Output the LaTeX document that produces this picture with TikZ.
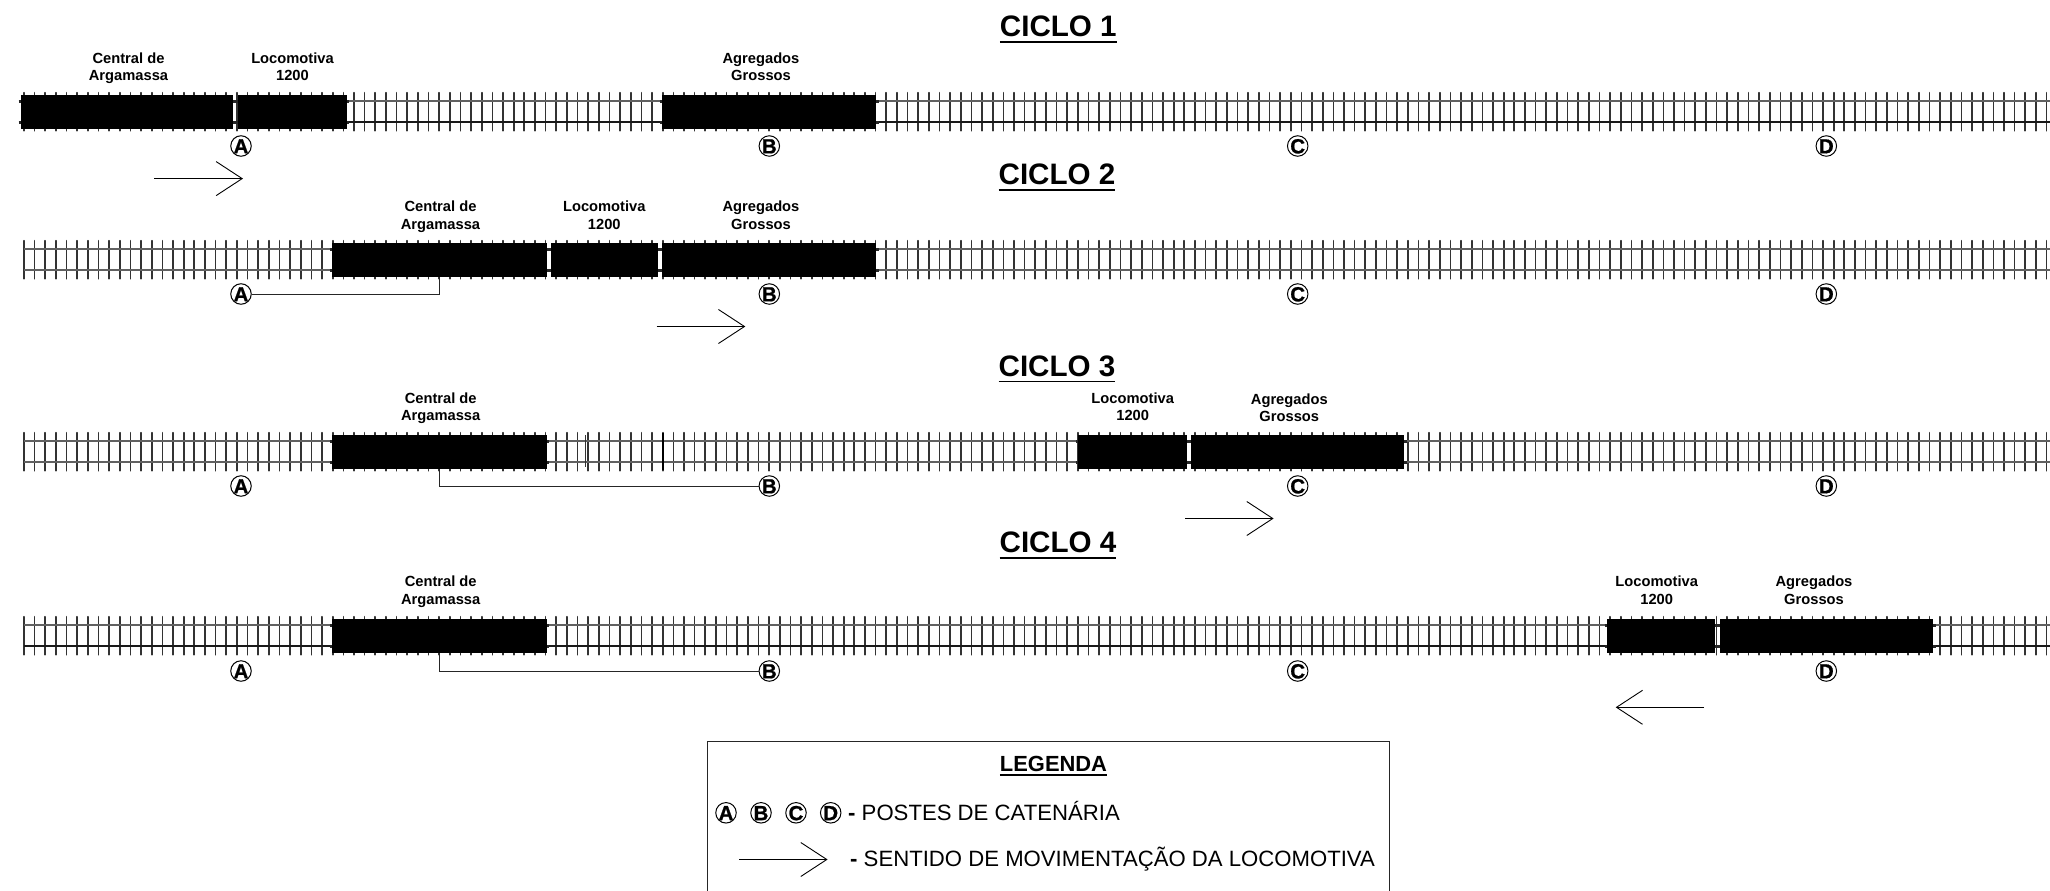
\documentclass[tikz,border=0pt]{standalone}
\usepackage{fontspec}
\setmainfont{Liberation Sans}
\newfontface\postfont{Liberation Sans Bold}[FakeBold=1]
\usetikzlibrary{arrows.meta}
\newsavebox{\ulsave}
\newcommand{\myul}[3]{\sbox{\ulsave}{#3}\leavevmode\rlap{\rule[-#1pt]{\wd\ulsave}{#2pt}}\usebox{\ulsave}}
\newcommand{\pz}[1]{\fontsize{#1pt}{#1pt}\selectfont}
\newcommand{\cl}[1]{\makebox[0pt]{\raisebox{-.36em}[0pt][0pt]{#1}}}
\tikzset{
  x=1pt,y=-1pt,
  tie/.style={line width=1.7pt,draw=black!80,line cap=round},
  railgrey/.style={line width=1.5pt,draw=black!62},
  railblack/.style={line width=1.2pt,draw=black!90},
  blk/.style={fill=black,draw=none,inner sep=0pt,minimum height=33.5pt,anchor=north west,rectangle},
  nub/.style={line width=3pt,draw=black!85},
  lab/.style={font=\bfseries\fontsize{14.7pt}{17.5pt}\selectfont,align=center,inner sep=0pt,anchor=base},
  ttl/.style={font=\bfseries\pz{29.6},inner sep=0pt,anchor=base},
  post/.style={circle,draw=black,line width=1pt,minimum size=20.5pt,inner sep=0pt,font=\postfont\pz{20.5}},
  conn/.style={draw=black!85,line width=1pt},
  mov/.style={draw=black,line width=.9pt,-{Straight Barb[length=26pt,width=34pt,line width=.9pt]}},
  lgd/.style={font=\pz{22.15},inner sep=0pt,anchor=base west},
}
\newcommand{\track}[4]{% top, start x, top rail style, bottom rail style
  \foreach \k in {0,...,190}{
    \draw[tie] ({24+10.645*\k},#1-2.3) -- ({24+10.645*\k},#1+35.7);
  }
  \draw[#3] (#2,#1+6) -- (2050,#1+6);
  \draw[#4] (#2,#1+27) -- (2050,#1+27);
}
\newcommand{\blkn}[4]{% name, x1, x2, top
  \draw[nub] (#2-2.5,#4+6) -- (#3+2.5,#4+6);
  \draw[nub] (#2-2.5,#4+27) -- (#3+2.5,#4+27);
  \node[blk,minimum width={(#3-#2)*1pt}] (#1) at (#2,#4) {};
}
\begin{document}
\begin{tikzpicture}
\useasboundingbox[fill=white] (0,0) rectangle (2050,891);

% titles
\node[ttl] (t1) at (1058.3,36.8) {\myul{6}{1.3}{CICLO 1}};
\node[ttl] (t2) at (1057,184.5) {\myul{6}{1.3}{CICLO 2}};
\node[ttl] (t3) at (1057,376) {\myul{6}{1.3}{CICLO 3}};
\node[ttl] (t4) at (1058,552.5) {\myul{6}{1.3}{CICLO 4}};

% tracks
\track{95}{19}{railgrey}{railblack}
\track{243}{24}{railgrey}{railgrey}
\track{435}{24}{railgrey}{railgrey}
\track{619}{24}{railgrey}{railblack}
\draw[line width=1pt,draw=black!80] (585,435) -- (585,467);
\draw[line width=1.6pt,draw=black] (662.7,433) -- (662.7,470);

% ciclo 1
\blkn{cen1}{21}{233}{95}
\blkn{loc1}{237.5}{346.5}{95}
\blkn{agr1}{662}{876}{95}
\node[lab] (lc1) at (128.5,81) {Central de\\Argamassa};
\node[lab] (ll1) at (292.5,81) {Locomotiva\\1200};
\node[lab] (la1) at (761,81) {Agregados\\Grossos};
% ciclo 2
\blkn{cen2}{332}{546.5}{243}
\blkn{loc2}{550.5}{657.5}{243}
\blkn{agr2}{662}{876}{243}
\node[lab] (lc2) at (440.5,229) {Central de\\Argamassa};
\node[lab] (ll2) at (604.3,229) {Locomotiva\\1200};
\node[lab] (la2) at (761,229) {Agregados\\Grossos};
% ciclo 3
\blkn{cen3}{332}{546.5}{435}
\blkn{loc3}{1078}{1186.5}{435}
\blkn{agr3}{1191}{1404}{435}
\node[lab] (lc3) at (440.7,420.5) {Central de\\Argamassa};
\node[lab] (ll3) at (1132.7,420.5) {Locomotiva\\1200};
\node[lab] (la3) at (1289.3,421.5) {Agregados\\Grossos};
% ciclo 4
\blkn{cen4}{332}{546.5}{619}
\blkn{loc4}{1607}{1715}{619}
\blkn{agr4}{1719.5}{1933}{619}
\node[lab] (lc4) at (440.7,604) {Central de\\Argamassa};
\node[lab] (ll4) at (1656.7,604) {Locomotiva\\1200};
\node[lab] (la4) at (1814,604) {Agregados\\Grossos};

% posts
\foreach \r/\y in {1/146,2/294,3/486,4/671}{
  \node[post] (a\r) at (241,\y) {\cl{A}};
  \node[post] (b\r) at (769.3,\y) {\cl{B}};
  \node[post] (c\r) at (1297.7,\y) {\cl{C}};
  \node[post] (d\r) at (1826.3,\y) {\cl{D}};
}

% connectors to posts
\draw[conn] (a2.east) -| (cen2.south);
\draw[conn] (b3.west) -| (cen3.south);
\draw[conn] (b4.west) -| (cen4.south);

% movement arrows
\coordinate (m1s) at (154.3,178.6); \coordinate (m1e) at (243,178.6);
\coordinate (m2s) at (656.7,326.5);   \coordinate (m2e) at (745.3,326.5);
\coordinate (m3s) at (1185,518.5);  \coordinate (m3e) at (1273.6,518.5);
\coordinate (m4s) at (1704,707.3);  \coordinate (m4e) at (1615.7,707.3);
\draw[mov] (m1s) -- (m1e);
\draw[mov] (m2s) -- (m2e);
\draw[mov] (m3s) -- (m3e);
\draw[mov] (m4s) -- (m4e);

% legend
\draw[line width=1pt,draw=black!85] (707.3,891) -- (707.3,741.2) -- (1389.7,741.2) -- (1389.7,891);
\node[font=\bfseries\pz{21.9},inner sep=0pt,anchor=base] (lg) at (1053.5,771) {\myul{4.5}{1.2}{LEGENDA}};
\node[post] (la) at (726,812.8) {\cl{A}};
\node[post] (lb) at (761,812.8) {\cl{B}};
\node[post] (lc) at (796,812.8) {\cl{C}};
\node[post] (ld) at (830.7,812.8) {\cl{D}};
\node[lgd] (lt1) at (848,820.2) {\textbf{-} POSTES DE CATENÁRIA};
\coordinate (m5s) at (739.3,859.5); \coordinate (m5e) at (827.6,859.5);
\draw[mov] (m5s) -- (m5e);
\node[lgd] (lt2) at (850,866.6) {\textbf{-} SENTIDO DE MOVIMENTAÇÃO DA LOCOMOTIVA};
\end{tikzpicture}
\end{document}
